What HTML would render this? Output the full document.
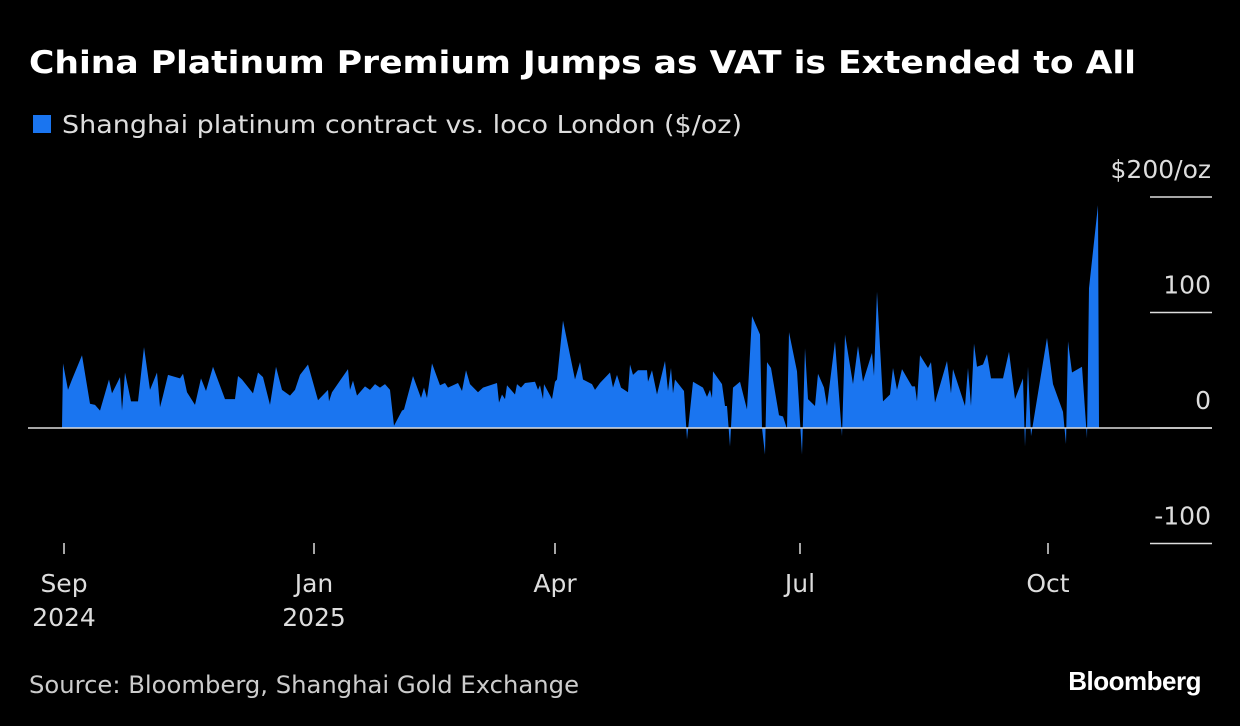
<!DOCTYPE html>
<html><head><meta charset="utf-8"><style>
body{margin:0;background:#000;width:1240px;height:726px;overflow:hidden;font-family:"DejaVu Sans","Liberation Sans",sans-serif;color:#fff}
svg{position:absolute;left:0;top:0}
</style></head><body>
<svg width="1240" height="726" font-family="DejaVu Sans, Liberation Sans, sans-serif">
<text x="29" y="73" font-size="31" font-weight="bold" fill="#fff" textLength="1107" lengthAdjust="spacingAndGlyphs">China Platinum Premium Jumps as VAT is Extended to All</text>
<rect x="33" y="115" width="18" height="18" fill="#1a75f0"/>
<text x="62" y="133" font-size="25" fill="#ddd" textLength="680" lengthAdjust="spacingAndGlyphs">Shanghai platinum contract vs. loco London ($/oz)</text>
<g id="plot"></g>
<text x="29" y="693" font-size="24" fill="#ccc" textLength="550" lengthAdjust="spacingAndGlyphs">Source: Bloomberg, Shanghai Gold Exchange</text>
<text x="1201" y="690" font-size="26" font-weight="bold" fill="#fff" text-anchor="end" font-family="Liberation Sans, sans-serif" letter-spacing="-0.5">Bloomberg</text>
</svg>
<script>
const px=[0,1,6,10,20,28,33,38,42,47,
50,58,60,63,69,76,82,88,95,98,
101,106,118,121,125,133,139,144,151,163,
173,176,180,191,196,201,208,214,220,228,
233,238,246,256,266,267,270,286,288,291,
295,303,308,313,318,323,328,332,340,342,
351,359,362,365,370,378,383,386,396,400,
404,408,416,421,435,437,440,443,445,453,
455,459,463,473,476,478,481,482,490,493,
495,501,513,518,521,530,533,538,548,551,
555,559,566,568,571,576,585,586,590,595,
603,606,609,611,613,622,625,631,641,645,
648,650,651,660,663,665,668,671,678,685,
690,698,700,703,705,709,717,721,725,727,
735,740,743,746,753,756,762,765,773,780,
783,791,796,801,810,812,815,821,828,831,
835,840,850,853,855,858,866,869,873,885,
889,891,903,906,909,912,915,921,925,929,
941,947,953,961,963,966,969,985,991,1001,
1004,1006,1010,1020,1025,1027,1036,1037];
const values=[0,56,33,42,63,21,20,15,27,42,
30,44,15,48,23,23,70,33,48,18,
28,46,43,47,31,20,43,32,53,25,
25,45,42,30,48,44,20,53,33,28,
33,46,55,24,33,23,31,51,33,41,
28,36,33,38,35,38,33,2,15,16,
45,26,35,26,56,37,39,35,39,32,
50,38,31,35,39,22,29,25,37,29,
38,35,39,40,33,37,25,38,25,40,
42,93,42,57,42,38,33,39,48,35,
46,35,31,55,46,50,50,40,50,29,
58,32,52,30,42,32,-10,40,35,27,
33,26,49,38,19,19,-16,35,40,16,
97,81,0,-23,57,52,11,10,-1,83,
49,-23,69,25,19,47,35,19,75,-7,
81,38,71,40,65,45,118,23,29,52,
33,51,36,36,23,63,52,57,22,58,
30,51,19,52,19,73,53,55,64,43,
43,66,25,43,-16,53,-7,78,38,14,
-14,75,48,53,-9,121,193,0];
const yTicks=[200,100,0,-100];
const yTickLabels=["$200/oz","100","0","-100"];
const xTickPos=[2,252,493,738,986];
const xTickLabels=[["Sep","2024"],["Jan","2025"],["Apr",""],["Jul",""],["Oct",""]];
const xs=t=>62+t;
const ys=v=>428-v*1.155;
const NS="http://www.w3.org/2000/svg";
const g=document.getElementById('plot');
function mk(tag,attrs){const e=document.createElementNS(NS,tag);for(const k in attrs)e.setAttribute(k,attrs[k]);g.appendChild(e);return e;}
yTicks.forEach((v,i)=>{
 const l=mk('line',{x1:1150,x2:1212,y1:ys(v),y2:ys(v),stroke:'#ddd','stroke-width':1.5});
 
 
 const t=mk('text',{x:1211,y:ys(v)-19,'font-size':25,fill:'#ddd','text-anchor':'end'});
 t.textContent=yTickLabels[i];
 
 
});
let d='M'+xs(px[0])+','+ys(0);
px.forEach((t,i)=>{d+=' L'+xs(t)+','+ys(values[i]);});
d+=' L'+xs(px[px.length-1])+','+ys(0)+'Z';
const area=mk('path',{d:d,fill:'#1a75f0'});


const z=mk('line',{x1:28,x2:1212,y1:ys(0),y2:ys(0),stroke:'#ddd','stroke-width':1.5});


xTickPos.forEach((t,i)=>{
 const l=mk('line',{x1:xs(t),x2:xs(t),y1:543,y2:554,stroke:'#ddd','stroke-width':1.5});
 
 
 xTickLabels[i].forEach((s,j)=>{
  if(!s)return;
  const tx=mk('text',{x:xs(t),y:592+j*34,'font-size':25,fill:'#ddd','text-anchor':'middle'});
  tx.textContent=s;
  
  
 });
});
</script>
</body></html>
